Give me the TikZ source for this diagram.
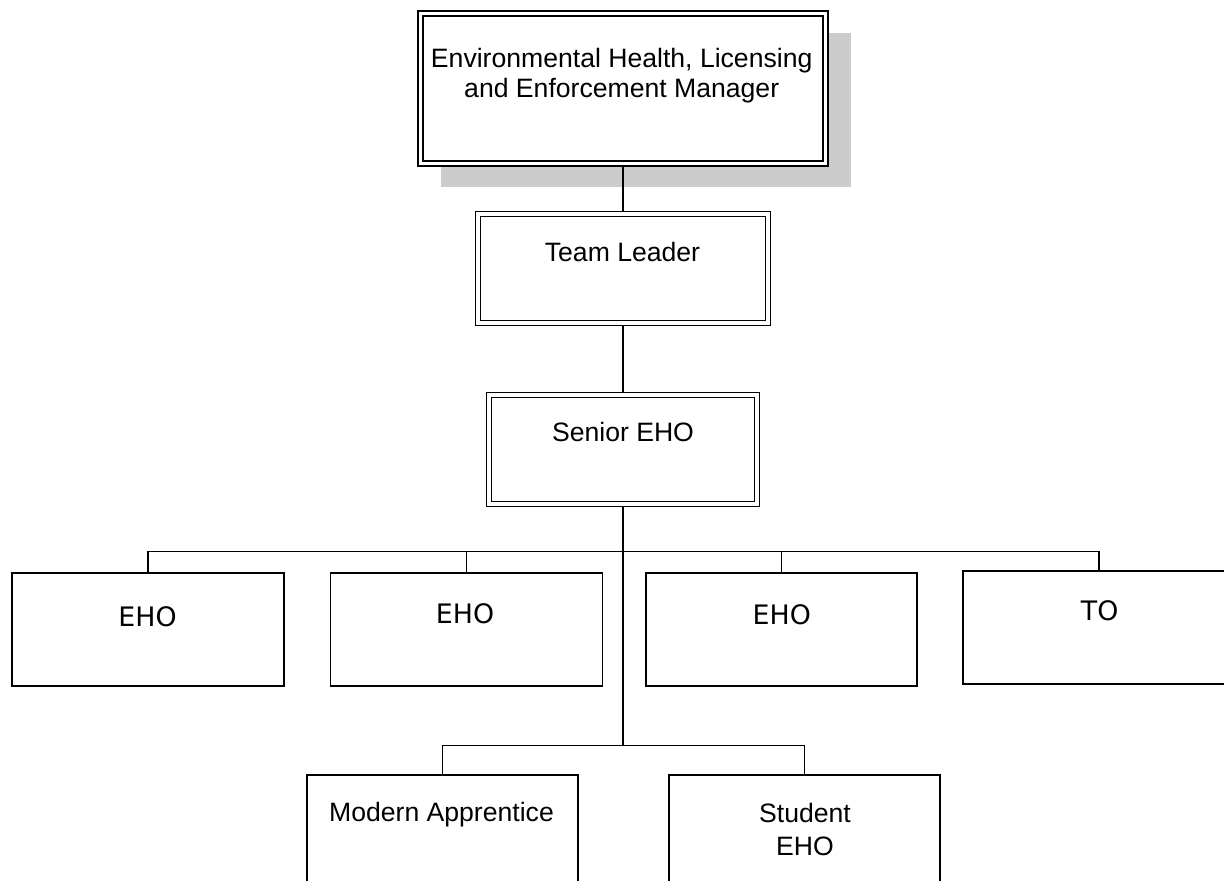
\documentclass[tikz,border=0pt]{standalone}
\usepackage{fontspec}
\setmainfont{Liberation Sans}
\newfontfamily\tfont{DejaVu Sans}
\usetikzlibrary{backgrounds}
\begin{document}
\begin{tikzpicture}[x=0.5pt,y=-0.5pt,
  box/.style={draw, fill=white, line width=0.6pt, inner sep=0pt, outer sep=0pt,
    minimum width=136pt, minimum height=56.5pt},
  dbox/.style={draw, fill=white, line width=0.6pt, double, double distance=1.9pt,
    inner sep=0pt, outer sep=0pt},
  conn/.style={line width=0.6pt},
  thickconn/.style={line width=1pt},
  lbl/.style={anchor=base, inner sep=0pt, font=\fontsize{13.3}{15}\selectfont, align=center},
  tlbl/.style={anchor=base, inner sep=0pt, font=\tfont\fontsize{13.4}{15}\selectfont}]
\useasboundingbox (0,0) rectangle (1224,881);

% boxes
\node[dbox, minimum width=202.5pt, minimum height=75pt] (mgr) at (623,88.5) {};
\node[dbox, minimum width=145.15pt, minimum height=54.4pt] (tl) at (623,268.8) {};
\node[dbox, minimum width=133.65pt, minimum height=54.4pt] (sen) at (623,449.8) {};

\node[box] (e1) at (148,629.5) {};
\node[box] (e2) at (466.5,629.5) {};
\node[box, minimum width=135.5pt] (e3) at (781.5,629.5) {};
\node[box] (to) at (1099,627.5) {};
\node[box, minimum width=135.5pt] (ma) at (442.5,831.5) {};
\node[box, minimum width=135.5pt] (st) at (804.5,831.5) {};

\coordinate (j1) at (623,551.7);
\coordinate (j2) at (623,745.7);

\begin{scope}[on background layer]
  \fill[gray!40] (441,33) rectangle (851,187.5);
  \draw[conn] (mgr.south) -- (tl.north);
  \draw[conn] (tl.south) -- (sen.north);
  \draw[thickconn] (sen.south) -- (j2);
  \draw[conn] (e1.north) |- (j1) -| (to.north);
  \draw[conn] (e2.north) -- (e2.north |- j1);
  \draw[conn] (e3.north) -- (e3.north |- j1);
  \draw[conn] (ma.north) |- (j2) -| (st.north);
\end{scope}

% texts
\node[lbl] (tmgr) at (621.7,98) {Environmental Health, Licensing\\and Enforcement Manager};
\node[lbl] (ttl) at (622.5,261.7) {Team Leader};
\node[lbl] (tsen) at (623,441.7) {Senior EHO};
\node[tlbl] (te1) at (147.5,626) {EHO};
\node[tlbl] (te2) at (465,623.3) {EHO};
\node[tlbl] (te3) at (781.8,624) {EHO};
\node[tlbl] (tto) at (1099.6,620) {TO};
\node[lbl] (tma) at (441.5,821.7) {Modern Apprentice};
\node[lbl, font=\fontsize{13.3}{16.5}\selectfont] (tst) at (805,855) {Student\\EHO};
\end{tikzpicture}
\end{document}
